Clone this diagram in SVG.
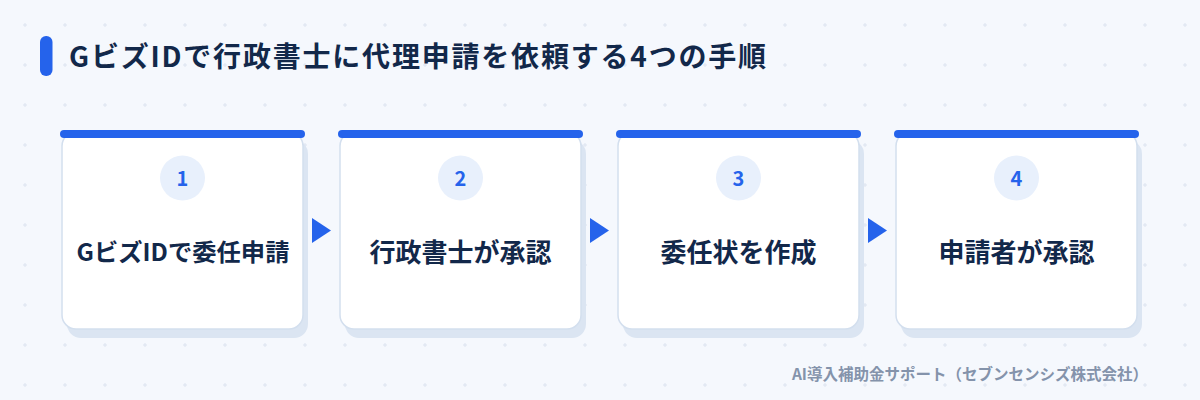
<svg xmlns="http://www.w3.org/2000/svg" width="1200" height="400" viewBox="0 0 1200 400">
  <defs>
    <pattern id="grid" x="0" y="0" width="40" height="40" patternUnits="userSpaceOnUse">
      <path d="M23 25h4M25 23v4" stroke="#dde4f0" stroke-width="1"/>
    </pattern>
    <style>
      .title{font-family:"Noto Sans CJK JP","Noto Sans",sans-serif;font-weight:700;font-size:28px;fill:#12284a;letter-spacing:1.8px}
      .shadow{fill:#dbe5f2}
      .card{fill:#ffffff;stroke:#d3dfee;stroke-width:1.5}
      .bar{fill:#2563eb}
      .badge{fill:#e8f0fc}
      .num{font-family:"Noto Sans CJK JP","Noto Sans",sans-serif;font-weight:700;font-size:20px;fill:#2563eb;text-anchor:middle}
      .label{font-family:"Noto Sans CJK JP","Noto Sans",sans-serif;font-weight:700;font-size:26px;fill:#12284a;text-anchor:middle}
      .small{font-size:24.3px}
      .arrow{fill:#2563eb}
      .foot{font-family:"Noto Sans CJK JP","Noto Sans",sans-serif;font-weight:700;font-size:15.5px;fill:#8493ab;text-anchor:end}
    </style>
  </defs>
  <rect width="1200" height="400" fill="#f5f8fd"/>
  <rect width="1200" height="400" fill="url(#grid)"/>

  <g id="title">
    <rect x="40" y="36" width="12.5" height="40" rx="6" fill="#2563eb"/>
    <text class="title" x="69" y="67">GビズIDで行政書士に代理申請を依頼する4つの手順</text>
  </g>

  <g id="step1">
    <rect class="shadow" x="67" y="140" width="241" height="198" rx="14"/>
    <rect class="card" x="62" y="132" width="241" height="197" rx="14"/>
    <rect class="bar" x="60" y="130" width="245" height="8" rx="4"/>
    <circle class="badge" cx="182.5" cy="178" r="22.5"/>
    <text class="num" x="182.5" y="185.5">1</text>
    <text class="label small" x="183" y="261">GビズIDで委任申請</text>
  </g>
  <g id="step2">
    <rect class="shadow" x="345" y="140" width="241" height="198" rx="14"/>
    <rect class="card" x="340" y="132" width="241" height="197" rx="14"/>
    <rect class="bar" x="338" y="130" width="245" height="8" rx="4"/>
    <circle class="badge" cx="460.5" cy="178" r="22.5"/>
    <text class="num" x="460.5" y="185.5">2</text>
    <text class="label" x="460.5" y="261.5">行政書士が承認</text>
  </g>
  <g id="step3">
    <rect class="shadow" x="623" y="140" width="241" height="198" rx="14"/>
    <rect class="card" x="618" y="132" width="241" height="197" rx="14"/>
    <rect class="bar" x="616" y="130" width="245" height="8" rx="4"/>
    <circle class="badge" cx="738.5" cy="178" r="22.5"/>
    <text class="num" x="738.5" y="185.5">3</text>
    <text class="label" x="738.5" y="261.5">委任状を作成</text>
  </g>
  <g id="step4">
    <rect class="shadow" x="901" y="140" width="241" height="198" rx="14"/>
    <rect class="card" x="896" y="132" width="241" height="197" rx="14"/>
    <rect class="bar" x="894" y="130" width="245" height="8" rx="4"/>
    <circle class="badge" cx="1016.5" cy="178" r="22.5"/>
    <text class="num" x="1016.5" y="185.5">4</text>
    <text class="label" x="1016.5" y="261.5">申請者が承認</text>
  </g>

  <g id="connectors">
    <polygon class="arrow" points="312,218 331,230.5 312,243"/>
    <polygon class="arrow" points="590,218 609,230.5 590,243"/>
    <polygon class="arrow" points="868,218 887,230.5 868,243"/>
  </g>

  <g id="footer">
    <text class="foot" x="1148" y="380">AI導入補助金サポート（セブンセンシズ株式会社）</text>
  </g>
</svg>
